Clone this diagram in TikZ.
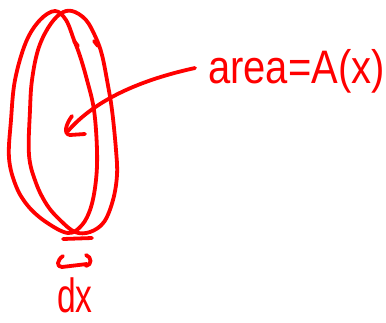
\documentclass[tikz,border=0pt]{standalone}
\usepackage{fontspec}
\setmainfont{Liberation Sans}
\begin{document}
\begin{tikzpicture}[x=1pt,y=-1pt,
  ink/.style={draw=red,line width=3.8pt,line cap=round,line join=round},
  hand/.style={text=red,inner sep=0pt,anchor=base west}]
\useasboundingbox (0,0) rectangle (386,322);
% left loop: outer left side + inner right side
\draw[ink] plot[smooth cycle,tension=0.6] coordinates {
 (55,11) (40,20) (26,42) (15,80) (11,120) (9,158) (16,186) (28,206) (46,222) (68,233)
 (82,225) (91,207) (96,180) (97,150) (94,110) (87,80) (80,56) (74,40) (66,20)};
% right loop: inner left side + outer right side
\draw[ink] plot[smooth cycle,tension=0.6] coordinates {
 (72,11) (86,20) (96,38) (102,55) (107,80) (112,110) (116,150) (117,175) (113,200)
 (104,222) (90,232) (75,232) (60,220) (47,205) (36,183) (29,155) (30,110) (32,80)
 (38,50) (48,28) (60,14)};
% small jogs on the right side
\draw[ink] (74,41) -- (78,46);
\draw[ink] (94,41) -- (98,46);
% text nodes
\node[hand,font=\fontsize{47}{47}\selectfont,xscale=0.85] (area) at (208,83) {area=A(x)};
\node[hand,font=\fontsize{48}{48}\selectfont,xscale=0.7] (dx) at (57,312) {dx};
% arrow to interior
\coordinate (s) at (195,68);
\coordinate (t) at (68,131);
\draw[ink] (s) .. controls (140,80) and (95,100) .. (t);
\draw[ink] (72,116) .. controls (66,124) and (63,134) .. (70,135) -- (85,134);
% thickness marker
\coordinate (b1) at (63,239);
\coordinate (b2) at (92,238);
\draw[ink] (b1) -- (b2);
\draw[ink] (63,256) .. controls (57,260) and (56,267) .. (62,267) -- (87,264);
\draw[ink] (86,255) .. controls (92,257) and (92,265) .. (86,266);
\end{tikzpicture}
\end{document}
